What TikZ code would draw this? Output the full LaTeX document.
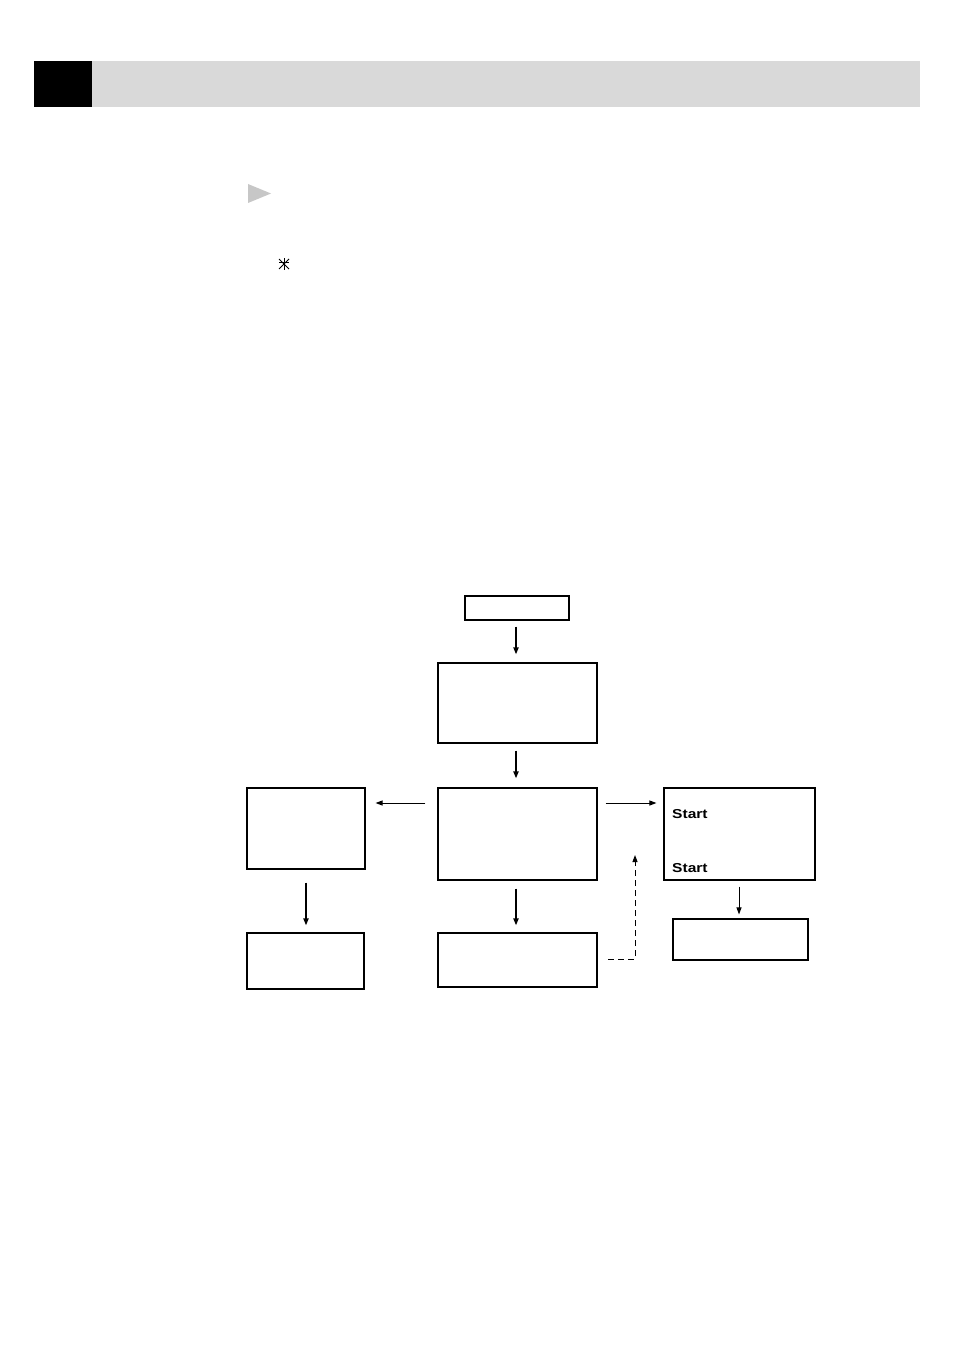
\documentclass[tikz,border=0pt]{standalone}
\usepackage{fontspec}
\setsansfont{Liberation Sans}
\usetikzlibrary{arrows.meta}
\tikzset{
  fbox/.style={draw=black, line width=1.1bp, fill=white, inner sep=0pt},
  arr/.style={-{Triangle[length=7bp,width=5bp]}, line width=1.9bp},
  harr/.style={-{Triangle[length=7bp,width=5bp]}, line width=1bp},
  darr/.style={-{Triangle[length=7bp,width=5bp]}, line width=1bp, dash pattern=on 6bp off 4bp},
  lbl/.style={font=\sffamily\bfseries\fontsize{13}{15}\selectfont, anchor=west, inner sep=0pt},
}
\newcommand{\shbox}[5]{% name, x1,y1,x2,y2
  \node[fbox, minimum width={(#4-#2)*1bp}, minimum height={(#5-#3)*1bp}] (#1) at ({(#2+#4)/2},{(#3+#5)/2}) {};
  \draw[line width=2bp] (#4,#3) -- (#4,#5) -- (#2,#5);
}
\begin{document}
\begin{tikzpicture}[x=1bp,y=-1bp]
\useasboundingbox (0,0) rectangle (954,1348);
% header
\fill[black] (34,61) rectangle (92,107);
\fill[black!15] (92,61) rectangle (920,107);
% triangle marker
\fill[black!22] (248,184) -- (271,193.5) -- (248,203) -- cycle;
% asterisk
\begin{scope}[line width=1bp]
\draw (284,258) -- (284,270);
\draw (279,259) -- (289,269);
\draw (289,259) -- (279,269);
\draw (279,262) -- (289,262);
\end{scope}
% boxes
\shbox{top}{465}{596}{569}{620}
\shbox{b2}{438}{663}{597}{743}
\shbox{ctr}{438}{788}{597}{880}
\shbox{lft}{247}{788}{365}{869}
\shbox{lftb}{247}{933}{364}{989}
\shbox{ctrb}{438}{933}{597}{987}
\shbox{rgt}{664}{788}{815}{880}
\shbox{rgtb}{673}{919}{808}{960}
% labels
\node[lbl] (s1) at (672,814) {\scalebox{1.2}[1]{Start}};
\node[lbl] (s2) at (672,868) {\scalebox{1.2}[1]{Start}};
% arrows
\coordinate (cx) at (516,0);
\coordinate (rx) at (739,0);
\draw[arr] ([yshift=-6bp]top.south -| cx) -- ([yshift=8bp]b2.north -| cx);
\draw[arr] ([yshift=-7bp]b2.south -| cx) -- ([yshift=9bp]ctr.north -| cx);
\draw[harr] ([xshift=-12bp]ctr.west |- 0,803) -- ([xshift=10bp]lft.east |- 0,803);
\draw[harr] ([xshift=8bp]ctr.east |- 0,803) -- ([xshift=-7bp]rgt.west |- 0,803);
\draw[arr] ([yshift=-13bp]lft.south) -- ([yshift=7bp]lft.south |- lftb.north);
\draw[arr] ([yshift=-8bp]ctr.south -| cx) -- ([yshift=7bp]ctrb.north -| cx);
\draw[harr] ([yshift=-6bp]rgt.south -| rx) -- ([yshift=4bp]rgtb.north -| rx);
\coordinate (d1) at (608,959);
\coordinate (d2) at (635,855);
\draw[darr] (d1) -- (d1 -| d2) -- (d2);
\end{tikzpicture}
\end{document}
